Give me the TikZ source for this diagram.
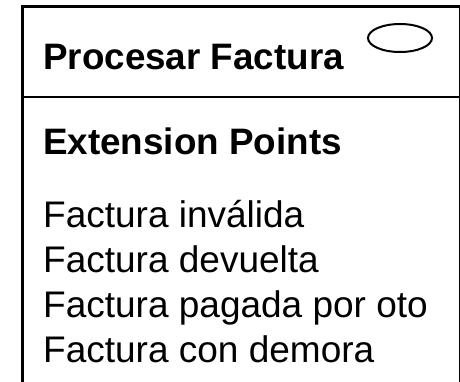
\documentclass[tikz,border=0pt]{standalone}
\usepackage{fontspec}
\setmainfont{Liberation Sans}
\usetikzlibrary{shapes.geometric}
\begin{document}
\begin{tikzpicture}[x=1pt,y=-1pt,
  frame/.style={line width=2.5pt},
  txt/.style={anchor=base west, inner sep=0pt, font=\fontsize{37}{44}\selectfont},
  boldtxt/.style={txt, font=\fontsize{36.8}{44}\selectfont\bfseries},
  icon/.style={draw, ellipse, line width=2pt, minimum width=64pt, minimum height=28pt, inner sep=0pt}]
\useasboundingbox (0,0) rectangle (460,381);
\begin{scope}
  \clip (0,0) rectangle (460,381);
  \draw[frame] (22.5,6.5) rectangle (460,400);
  \coordinate (divL) at (22.5,97);
  \coordinate (divR) at (460,97);
  \draw[frame] (divL) -- (divR);
\end{scope}
\node[icon] (usecase) at (400,38) {};
\node[boldtxt] (title) at (43,69) {Procesar Factura};
\node[boldtxt] (ext) at (43,154) {Extension Points};
\node[txt] (e1) at (43,227) {Factura inválida};
\node[txt] (e2) at (43,272) {Factura devuelta};
\node[txt] (e3) at (43,317) {Factura pagada por oto};
\node[txt] (e4) at (43,362) {Factura con demora};
\end{tikzpicture}
\end{document}
